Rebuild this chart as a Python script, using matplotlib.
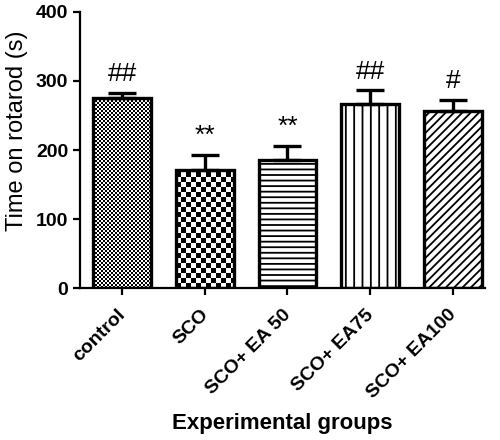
import numpy as np
import matplotlib
matplotlib.use('Agg')
import matplotlib.pyplot as plt
import matplotlib.transforms as mtransforms

# data
groups = ['control', 'SCO', 'SCO+ EA 50', 'SCO+ EA75', 'SCO+ EA100']
means = [276, 171, 186, 267, 256]
errors = [7, 22, 20, 20, 17]
marks = ['##', '**', '**', '##', '#']

plt.rcParams['font.family'] = ['Liberation Sans', 'DejaVu Sans']
plt.rcParams['hatch.linewidth'] = 1.3

fig = plt.figure(figsize=(5, 4.4), dpi=100)
ax = fig.add_axes([0.16, 0.345, 0.81, 0.628])

x = np.arange(len(groups))
ax.set_xlim(-0.51, 4.39)
ax.set_ylim(0, 400)

hatches = [None, None, '---', '||', '////']
faces = ['none', 'none', 'white', 'white', 'white']
bars = ax.bar(x, means, width=0.7, color=faces, edgecolor='black',
              linewidth=2.4, zorder=2)
for b, h in zip(bars, hatches):
    if h:
        b.set_hatch(h)

# checkerboard textures for the first two bars, one array cell per pixel
def checker(bar, cell):
    x0, y0 = bar.get_x(), bar.get_y()
    x1, y1 = x0 + bar.get_width(), y0 + bar.get_height()
    p0 = ax.transData.transform((x0, y0))
    p1 = ax.transData.transform((x1, y1))
    nc = int(round(p1[0] - p0[0]))
    nr = int(round(p1[1] - p0[1]))
    r = np.arange(nr)[:, None]
    c = np.arange(nc)[None, :]
    img = (((r // cell) + (c // cell)) % 2).astype(float)
    ax.imshow(img, cmap='gray', extent=(x0, x1, y0, y1), origin='lower',
              aspect='auto', interpolation='nearest', zorder=1.5)

checker(bars[0], 2)
checker(bars[1], 5)
ax.set_xlim(-0.51, 4.39)
ax.set_ylim(0, 400)

ax.errorbar(x, means, yerr=[np.zeros(len(x)), errors], fmt='none',
            ecolor='black', elinewidth=2.4, capsize=10, capthick=2.4, zorder=3)

for xi, m, e, s in zip(x, means, errors, marks):
    off = 10 if s == '**' else 9
    ax.text(xi, m + e + off, s, ha='center', va='bottom', fontsize=19)

for sp in ['top', 'right']:
    ax.spines[sp].set_visible(False)
for sp in ['left', 'bottom']:
    ax.spines[sp].set_linewidth(1.6)

ax.set_yticks([0, 100, 200, 300, 400])
ax.tick_params(axis='both', width=1.6, length=5, labelsize=14)
for lab in ax.get_yticklabels():
    lab.set_fontweight('bold')

ax.set_xticks(x)
ax.set_xticklabels(groups, rotation=45, ha='right', rotation_mode='anchor',
                   fontweight='bold', fontsize=14)
ax.tick_params(axis='x', pad=8)
shift = mtransforms.ScaledTranslation(-5 / 100, 0, fig.dpi_scale_trans)
for lab in ax.get_xticklabels():
    lab.set_transform(lab.get_transform() + shift)

ax.set_ylabel('Time on rotarod (s)', fontsize=17)
ax.yaxis.set_label_coords(-0.128, 0.57)
ax.set_xlabel('Experimental groups', fontsize=16, fontweight='bold', labelpad=8)

fig.savefig('out.png', dpi=100)
